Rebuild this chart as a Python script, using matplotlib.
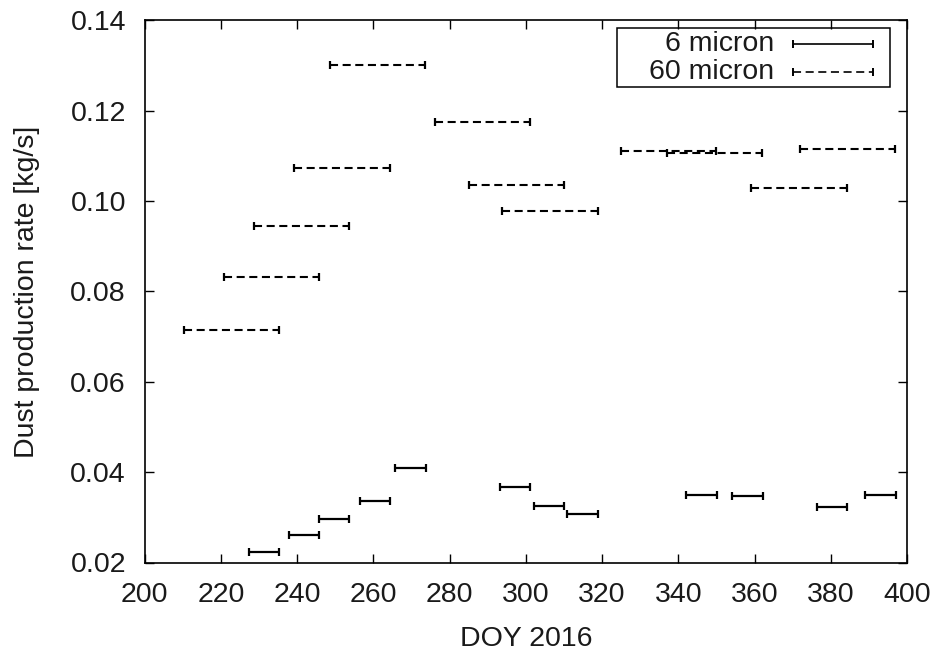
import matplotlib
matplotlib.use("Agg")
import matplotlib.pyplot as plt
from matplotlib.patches import Rectangle

plt.rcParams['font.family'] = ['Liberation Sans', 'DejaVu Sans']
plt.rcParams['lines.scale_dashes'] = False

# 60 micron: interval centres (DOY), half widths, rates
doy_60 = [222.7, 233.2, 241.1, 251.8, 261.0, 288.6, 297.5, 306.3, 337.4, 349.5, 371.7, 384.4]
hw_60 = [12.5] * 12
rate_60 = [0.0715, 0.0832, 0.0945, 0.1073, 0.1302, 0.1174, 0.1035, 0.0977, 0.1110, 0.1107, 0.1029, 0.1115]

# 6 micron
doy_6 = [231.3, 241.8, 249.7, 260.4, 269.7, 297.2, 306.1, 314.9, 346.1, 358.1, 380.3, 393.1]
hw_6 = [4.0] * 12
rate_6 = [0.0224, 0.0260, 0.0296, 0.0336, 0.0409, 0.0368, 0.0325, 0.0307, 0.0349, 0.0348, 0.0323, 0.0350]

xticks = [200, 220, 240, 260, 280, 300, 320, 340, 360, 380, 400]
yticks = [0.02, 0.04, 0.06, 0.08, 0.10, 0.12, 0.14]

FS = 20.5
DASH = (0, (5.8, 3.3))

fig = plt.figure(figsize=(9.4, 6.55), dpi=100)
ax = fig.add_axes([144.7/940, 1-562.5/655, 762.3/940, 542.2/655])

eb6 = ax.errorbar(doy_6, rate_6, xerr=hw_6, fmt='none', ecolor='black',
                  elinewidth=1.6, capsize=3.0, capthick=1.6)
eb60 = ax.errorbar(doy_60, rate_60, xerr=hw_60, fmt='none', ecolor='black',
                   elinewidth=1.5, capsize=3.0, capthick=1.6)
eb60[2][0].set_linestyle(DASH)

ax.set_xlim(200, 400)
ax.set_ylim(0.02, 0.14)
ax.set_xticks(xticks)
ax.set_yticks(yticks)
ax.set_xticklabels([str(v) for v in xticks])
ax.set_yticklabels([f"{v:.2f}" for v in yticks])
ax.tick_params(direction='in', length=6.5, width=1.0, top=True, right=True,
               labelsize=FS, colors='black', labelcolor='#1a1a1a')
ax.tick_params(axis='x', pad=13.8)
ax.tick_params(axis='y', pad=13.5)
for s in ax.spines.values():
    s.set_linewidth(1.2)

ax.set_xlabel("DOY 2016", fontsize=FS, color='#1a1a1a', labelpad=13)
ax.set_ylabel("Dust production rate [kg/s]", fontsize=FS, color='#1a1a1a', labelpad=22)

# legend (gnuplot style: right-aligned text, sample on the right)
ax.add_patch(Rectangle((0.6196, 0.877), 0.9777-0.6196, 0.9858-0.877,
                       transform=ax.transAxes, fill=False, lw=1.1, edgecolor='black', zorder=5))
rows = [(0.9563, "6 micron", None), (0.9052, "60 micron", DASH)]
for y, lab, ls in rows:
    ax.text(0.8255, y, lab, transform=ax.transAxes, ha='right', va='center',
            fontsize=FS, color='#1a1a1a')
    e = ax.errorbar([0.9029], [y], xerr=[0.0525], fmt='none', ecolor='black',
                    elinewidth=1.2, capsize=3.0, capthick=1.4,
                    transform=ax.transAxes, clip_on=False)
    if ls is not None:
        e[2][0].set_linestyle(ls)

fig.savefig("out.png", dpi=100)
